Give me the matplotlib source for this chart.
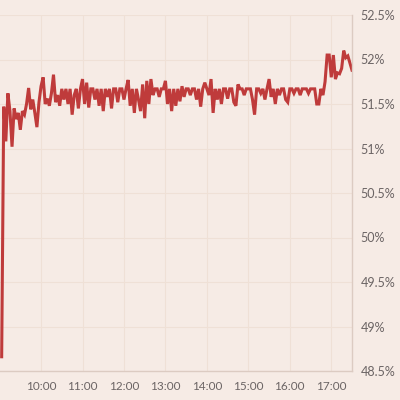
import numpy as np
import pandas as pd
import matplotlib
matplotlib.use('Agg')
import matplotlib.pyplot as plt
import matplotlib.dates as mdates

# ======================================================================
# Data (share, %), sampled every 3 minutes from 09:03
# ======================================================================
start_time = '2024-01-01 09:03'
step = '3min'
share = [
    48.66, 51.47, 51.08, 51.62, 51.42, 51.02, 51.45, 51.33, 51.40, 51.21,
    51.42, 51.38, 51.50, 51.68, 51.44, 51.55, 51.40, 51.24, 51.52, 51.70,
    51.80, 51.50, 51.56, 51.48, 51.62, 51.83, 51.52, 51.60, 51.48, 51.67,
    51.55, 51.67, 51.50, 51.67, 51.38, 51.60, 51.67, 51.45, 51.67, 51.78,
    51.50, 51.74, 51.46, 51.67, 51.67, 51.55, 51.67, 51.48, 51.67, 51.42,
    51.67, 51.58, 51.67, 51.45, 51.67, 51.67, 51.52, 51.67, 51.67, 51.55,
    51.67, 51.77, 51.48, 51.67, 51.40, 51.67, 51.55, 51.42, 51.72, 51.34,
    51.76, 51.50, 51.78, 51.60, 51.67, 51.67, 51.58, 51.67, 51.67, 51.76,
    51.50, 51.67, 51.42, 51.67, 51.48, 51.67, 51.53, 51.70, 51.58, 51.67,
    51.67, 51.60, 51.67, 51.67, 51.55, 51.67, 51.47, 51.67, 51.74, 51.67,
    51.60, 51.78, 51.40, 51.67, 51.55, 51.67, 51.50, 51.67, 51.67, 51.56,
    51.67, 51.67, 51.52, 51.48, 51.72, 51.67, 51.67, 51.60, 51.67, 51.67,
    51.67, 51.55, 51.38, 51.67, 51.67, 51.62, 51.67, 51.55, 51.67, 51.78,
    51.58, 51.67, 51.50, 51.67, 51.60, 51.67, 51.67, 51.55, 51.52, 51.67,
    51.67, 51.62, 51.67, 51.67, 51.60, 51.67, 51.67, 51.67, 51.62, 51.67,
    51.67, 51.67, 51.50, 51.50, 51.67, 51.60, 51.75, 52.05, 52.05, 51.80,
    52.05, 51.78, 51.85, 51.84, 51.90, 52.10, 52.02, 52.04, 51.96, 51.88,
]
y_ticks = [48.5, 49, 49.5, 50, 50.5, 51, 51.5, 52, 52.5]
y_tick_labels = ['48.5%', '49%', '49.5%', '50%', '50.5%', '51%', '51.5%', '52%', '52.5%']
x_tick_hours = [10, 11, 12, 13, 14, 15, 16, 17]

times = pd.date_range(start_time, periods=len(share), freq=step)

# ======================================================================
# Plot
# ======================================================================
bg = '#f6ebe5'
grid_c = '#efe0d6'
spine_c = '#dccbc2'
text_c = '#6b6464'
line_c = '#bf3b3b'

plt.rcParams['font.family'] = ['Lato', 'DejaVu Sans']

fig = plt.figure(figsize=(4, 4), dpi=100, facecolor=bg)
ax = fig.add_axes([0.0, 0.0725, 0.88, 0.89])
ax.set_facecolor(bg)

ax.plot(times, share, color=line_c, linewidth=2.2, solid_joinstyle='miter')

ax.set_ylim(48.5, 52.5)
ax.set_xlim(pd.Timestamp('2024-01-01 09:00:35'), pd.Timestamp('2024-01-01 17:30'))

ax.yaxis.tick_right()
ax.set_yticks(y_ticks)
ax.set_yticklabels(y_tick_labels)
xt = [pd.Timestamp('2024-01-01 %02d:00' % h) for h in x_tick_hours]
ax.set_xticks(xt)
ax.xaxis.set_major_formatter(mdates.DateFormatter('%H:%M'))

ax.tick_params(axis='both', length=0, colors=text_c, labelsize=9)
ax.tick_params(axis='y', pad=6)
ax.tick_params(axis='x', pad=7, labelsize=8.5)

ax.grid(True, color=grid_c, linewidth=0.8)
ax.set_axisbelow(True)
for s in ['top', 'left']:
    ax.spines[s].set_visible(False)
for s in ['right', 'bottom']:
    ax.spines[s].set_color(spine_c)
    ax.spines[s].set_linewidth(1)

fig.savefig('out.png', dpi=100, facecolor=bg)
